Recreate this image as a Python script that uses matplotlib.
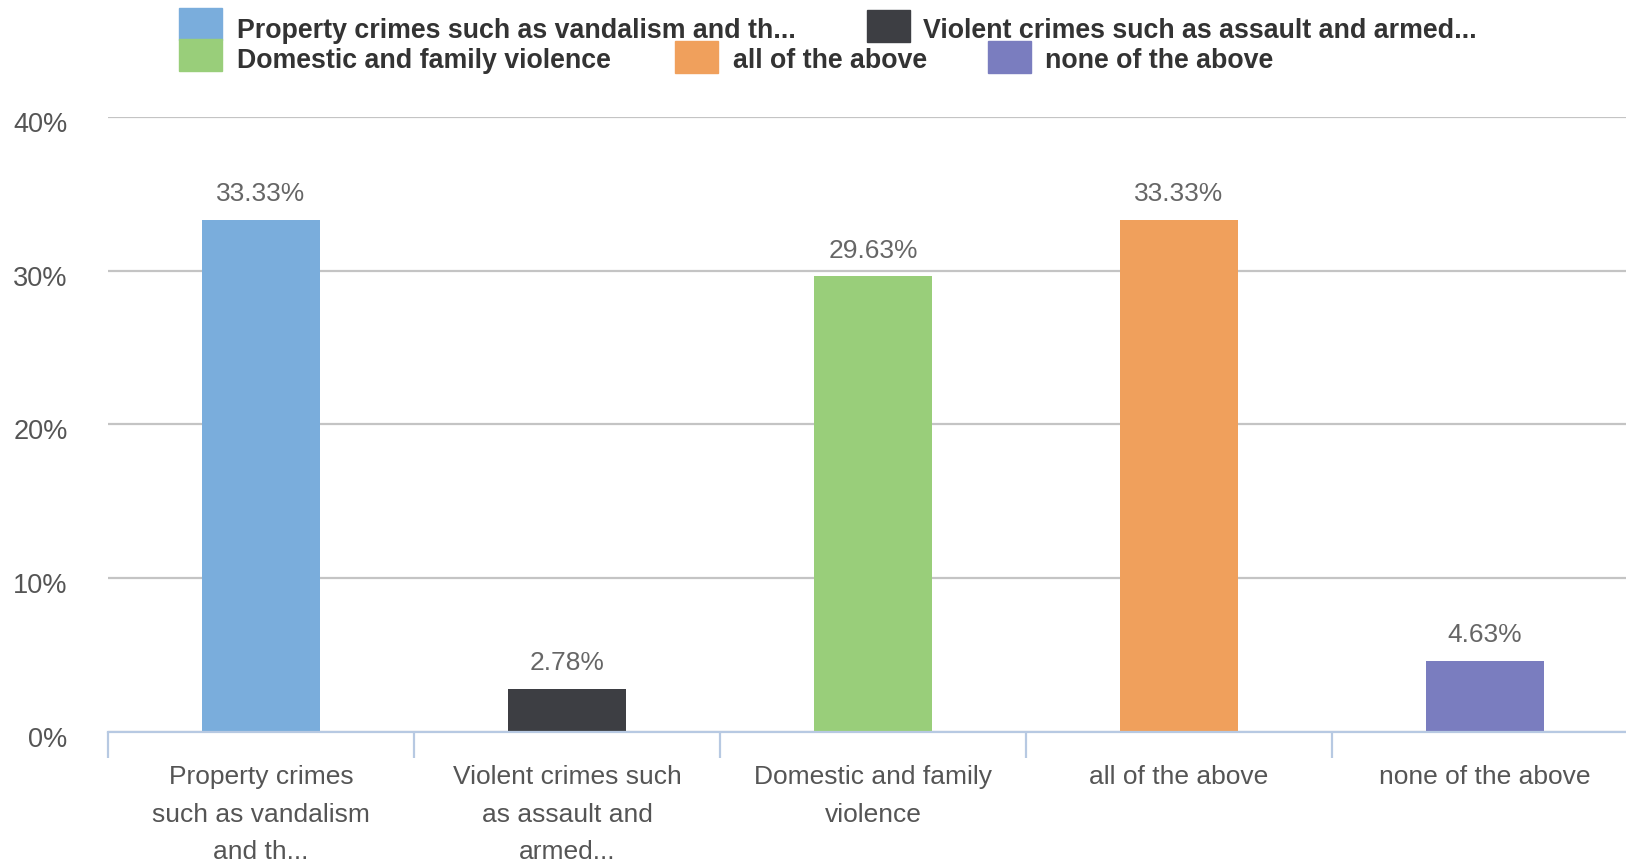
import matplotlib.pyplot as plt
import matplotlib.transforms as mtransforms
from matplotlib.patches import Rectangle

plt.rcParams['font.family'] = ['Liberation Sans', 'DejaVu Sans']

# survey answers and their shares (%)
legend_labels = ['Property crimes such as vandalism and th...',
                 'Violent crimes such as assault and armed...',
                 'Domestic and family violence',
                 'all of the above',
                 'none of the above']
tick_labels = ['Property crimes\nsuch as vandalism\nand th...',
               'Violent crimes such\nas assault and\narmed...',
               'Domestic and family\nviolence',
               'all of the above',
               'none of the above']
values = [33.33, 2.78, 29.63, 33.33, 4.63]
colores = ['#7aaddc', '#3d3e43', '#99ce7a', '#f0a05c', '#7a7dbf']
y_ticks = [0, 10, 20, 30, 40]

W, H = 1626, 866
fig = plt.figure(figsize=(W / 100, H / 100), dpi=100)
ax = fig.add_axes([108 / W, (H - 732) / H, 1530 / W, (732 - 117) / H])

x = list(range(len(values)))
ax.bar(x, values, width=0.385, color=colores, zorder=3)
for xi, v in zip(x, values):
    ax.annotate('%.2f%%' % v, (xi, v), xytext=(0, 10), textcoords='offset points',
                ha='center', va='bottom', fontsize=19, color='#666666')

ax.set_xlim(-0.5, len(values) - 0.5)
ax.set_ylim(0, 40)
ax.set_yticks(y_ticks)
ax.set_yticklabels(['%d%%' % t for t in y_ticks])
ax.yaxis.grid(True, color='#c4c4c4', linewidth=1.6, zorder=0)
ax.tick_params(axis='y', length=0, pad=29, labelsize=19.5, labelcolor='#555555')
# nudge y labels a little below their gridlines
shift = mtransforms.ScaledTranslation(0, -5 / 100, fig.dpi_scale_trans)
for lab in ax.get_yticklabels():
    lab.set_transform(lab.get_transform() + shift)

ax.set_xticks(x)
ax.set_xticklabels(tick_labels, linespacing=1.7)
ax.tick_params(axis='x', length=0, pad=24, labelsize=19, labelcolor='#555555')
ax.set_xticks([i - 0.5 for i in range(len(values) + 1)], minor=True)
ax.tick_params(axis='x', which='minor', length=19, width=1.6, color='#b7c9e2', direction='out')

for s in ['top', 'right', 'left']:
    ax.spines[s].set_visible(False)
ax.spines['bottom'].set_color('#b7c9e2')
ax.spines['bottom'].set_linewidth(1.6)
ax.spines['bottom'].set_zorder(4)

# legend drawn by hand in two rows
legend_pos = [(179, 8, 237, 31), (867, 10, 923, 31), (179, 39, 237, 61),
              (675, 41, 733, 61), (988, 41, 1045, 61)]
for (sx, sy, tx, ty), lab, c in zip(legend_pos, legend_labels, colores):
    fig.patches.append(Rectangle((sx / W, 1 - (sy + 32) / H), 43 / W, 32 / H,
                                 transform=fig.transFigure, color=c))
    fig.text(tx / W, 1 - ty / H, lab, ha='left', va='center', fontsize=19.3,
             fontweight='bold', color='#333333')

fig.savefig('out.png', dpi=100)
